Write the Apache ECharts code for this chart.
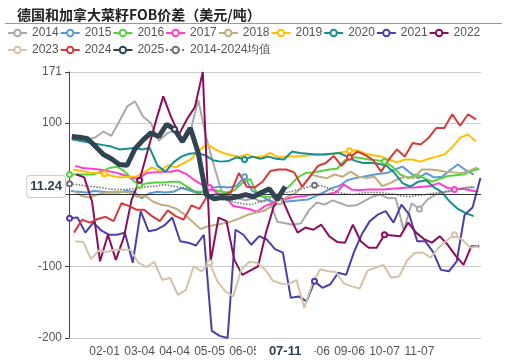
<!DOCTYPE html>
<html><head><meta charset="utf-8">
<script src="https://cdn.jsdelivr.net/npm/echarts@6/dist/echarts.min.js"></script>
<style>html,body{margin:0;padding:0;background:#fff}#c{width:505px;height:360px}</style>
</head><body><div id="c"></div>
<script>
const titleText = '德国和加拿大菜籽FOB价差（美元/吨）';
const seriesNames = ['2014','2015','2016','2017','2018','2019','2020','2021','2022','2023','2024','2025','2014-2024均值'];
// calendar year whose Fridays give each series' weekly dates
const seriesYears = [2014,2015,2016,2017,2018,2019,2020,2021,2022,2023,2024,2025,2021];
const seriesColors = ['#a9a9a9','#5b9bd5','#58d23c','#ff3fcf','#bfae7c','#ffc000','#15908e','#4b3ea8','#8a0d5e','#d3c3ab','#d53a3a','#2f4352','#707070'];

const v2014 = [76,77,77,80,88,82,102,123,130,109,100,75,85,90,72,88,132,80,40,3,-3,-5,-8,-5,-10,-7,-38,-40,-42,-40,-22,-11,-14,-8,-12,-16,-15,-9,-3,0,-5,-5,-50,-12,-20,-7,0,3,5,8,10,10];
const v2015 = [5,4,3,5,4,3,3,5,4,-5,2,4,3,4,9,6,2,5,10,11,10,12,25,5,0,-8,-11,-10,-9,-8,-7,-2,3,9,12,20,23,25,27,29,30,35,39,30,23,30,24,25,34,42,34,28];
const v2016 = [28,28,28,28,32,37,39,32,20,13,16,17,17,18,18,11,4,4,8,5,3,6,16,22,-2,-3,-3,4,12,24,30,31,33,35,36,48,52,51,49,48,46,39,28,23,28,23,18,22,26,27,28,33,36];
const v2017 = [40,37,36,35,33,31,28,24,22,30,31,32,32,34,29,21,14,10,2,-3,-16,-18,-20,-24,-16,-12,-8,-5,-3,-2,0,0,1,3,14,7,6,7,7,7,8,9,10,10,11,12,16,10,7,8,6,4];
const v2018 = [5,-2,-4,0,3,4,4,3,-3,-2,-10,-14,-16,-20,-28,-38,-48,-44,-42,-40,-37,-33,-28,-25,-23,-16,-10,-3,2,12,28,25,23,28,25,32,25,23,25,12,16,22,25,23,35,35,34,32,31,30,33,38];
const v2019 = [35,33,31,30,29,26,24,25,25,31,38,33,41,38,44,50,62,70,63,58,55,53,56,52,53,58,52,53,53,54,55,56,56,57,59,61,62,57,55,53,49,45,49,49,46,50,53,56,66,79,84,74];
const v2020 = [78,75,73,71,69,67,63,64,65,63,65,40,32,45,53,57,58,55,48,46,47,52,49,53,50,53,50,49,60,58,57,56,56,57,58,53,47,44,44,43,40,30,16,11,18,20,10,3,-10,-20,-26,-30];
const v2021 = [-33,-32,-53,-39,-50,-56,-56,-53,-95,-23,-51,-49,-43,-32,-65,-67,-71,-56,-190,-197,-200,-49,-56,-70,-58,-63,-76,-81,-144,-142,-149,-121,-130,-125,-109,-112,-80,-55,-37,-28,-23,-39,-14,-28,-65,-65,-80,-105,-107,-93,-28,-18,23];
const v2022 = [28,24,-10,-93,-56,-91,-60,-7,20,60,100,137,108,84,105,122,171,-93,-32,-37,-91,-112,-106,-100,-53,-16,-5,-30,-53,-46,-49,-42,-58,-66,-67,-42,-65,-74,-74,-56,-57,-58,-39,-53,-62,-67,-58,-70,-85,-98,-72,-72];
const v2023 = [-65,-66,-90,-78,-80,-77,-77,-77,-95,-101,-94,-119,-116,-140,-133,-100,-107,-95,-121,-135,-142,-105,-94,-95,-104,-120,-124,-125,-119,-158,-124,-104,-107,-108,-124,-128,-131,-106,-102,-98,-116,-114,-92,-81,-81,-88,-74,-64,-56,-63,-74,-72];
const v2024 = [-53,-35,-39,-34,-31,-37,-12,-16,-21,-21,-30,-37,-22,-30,-35,-15,-20,-2,0,0,3,30,11,10,18,33,35,35,31,11,25,40,44,54,40,52,60,55,48,32,49,63,53,72,70,79,93,93,112,96,112,105];
const v2025 = [81,80,78,67,56,50,42,41,64,76,86,81,98,91,74,93,58,0,-6,-4,-5,-3,0,-3,3,8,-7,11.24];
const vAvg = [15,14,12,11,10,8,7,7,8,10,11,12,14,12,10,9,4,0,-4,-6,-8,-11,-13,-14,-10,-7,-3,2,4,7,10,13,12,8,3,1,0,2,3,3,2,1,-2,-3,-1,0,2,3,5,7,9,11];
const seriesValues = [v2014,v2015,v2016,v2017,v2018,v2019,v2020,v2021,v2022,v2023,v2024,v2025,vAvg];

const yTicks = {min: -200, max: 171, interval: 100};
const pointerY = 11.24;
const FONT = "'Liberation Sans', Arial, sans-serif";

function mmdd(d){ return String(d.getUTCMonth()+1).padStart(2,'0') + '-' + String(d.getUTCDate()).padStart(2,'0'); }
const categories = [];
for (let i = 0; i < 365; i++) categories.push(mmdd(new Date(Date.UTC(2023,0,1+i))));
function fridays(year, n){
  const d = new Date(Date.UTC(year,0,1));
  while (d.getUTCDay() !== 5) d.setUTCDate(d.getUTCDate()+1);
  const out = [];
  for (let i = 0; i < n; i++){ out.push(mmdd(d)); d.setUTCDate(d.getUTCDate()+7); }
  return out;
}

const series = seriesNames.map((name, si) => {
  const vals = seriesValues[si];
  const dates = fridays(seriesYears[si], vals.length);
  const isCur = name === '2025';
  const isAvg = si === seriesNames.length - 1;
  const s = {
    name, type: 'line', data: vals.map((v,i)=>[dates[i], v]),
    symbol: 'emptyCircle', symbolSize: 5, showSymbol: true,
    itemStyle: {color: seriesColors[si]},
    lineStyle: {color: seriesColors[si], width: isCur ? 5 : (isAvg ? 1.5 : 2), type: isAvg ? 'dotted' : 'solid'},
    emphasis: {disabled: true},
    z: isCur ? 5 : 2
  };
  if (isAvg) {
    s.markLine = {silent: true, symbol: 'none', label: {show: false}, animation: false,
      lineStyle: {color: '#333', width: 1, type: 'solid'}, data: [{yAxis: 0}]};
  }
  return s;
});
const lastDates = fridays(2025, v2025.length);
const pointerX = categories.indexOf(lastDates[lastDates.length-1]);

const legendBase = {padding: 0, itemWidth: 19, itemHeight: 8, itemGap: 1,
  textStyle: {fontSize: 12, color: '#555', fontFamily: FONT}};

const chart = echarts.init(document.getElementById('c'), null, {renderer: 'canvas'});
chart.setOption({
  animation: false,
  backgroundColor: '#fff',
  title: {text: titleText, left: 12, top: 3, textStyle: {fontFamily: "'Noto Sans CJK SC'", fontSize: 14, fontWeight: 'bold', color: '#222'}},
  graphic: [{type: 'line', shape: {x1: 5, y1: 23.5, x2: 502, y2: 23.5}, style: {stroke: '#999', lineWidth: 1}}],
  legend: [
    Object.assign({left: 7, top: 27, data: seriesNames.slice(0, 9)}, legendBase),
    Object.assign({left: 7, top: 44, data: seriesNames.slice(9)}, legendBase)
  ],
  grid: {left: 69, right: 24, top: 72, bottom: 22, containLabel: false},
  xAxis: {type: 'category', data: categories, boundaryGap: true,
    axisLine: {show: false, onZero: false}, axisTick: {show: false},
    axisLabel: {interval: 30, showMinLabel: false, showMaxLabel: false, color: '#555', fontSize: 12, margin: 8, fontFamily: FONT},
    splitLine: {show: false},
    axisPointer: {show: true, status: 'show', value: pointerX, type: 'line', snap: false, triggerTooltip: false,
      lineStyle: {color: 'rgba(0,0,0,0)', width: 0},
      label: {show: true, backgroundColor: '#fff', color: '#2f3f4f', fontWeight: 'bold', fontSize: 13, padding: [2, 13], margin: 6, fontFamily: FONT, shadowBlur: 0}}
  },
  yAxis: {type: 'value', min: yTicks.min, max: yTicks.max, interval: yTicks.interval,
    axisLine: {show: true, lineStyle: {color: '#444'}}, axisTick: {show: true, length: 4, lineStyle: {color: '#444'}},
    axisLabel: {color: '#555', fontSize: 12, margin: 7, fontFamily: FONT},
    splitLine: {show: true, lineStyle: {color: '#ccc', width: 1}},
    axisPointer: {show: true, status: 'show', value: pointerY, type: 'line', snap: false, triggerTooltip: false,
      lineStyle: {color: 'rgba(0,0,0,0)', width: 0},
      label: {show: true, backgroundColor: '#fff', borderColor: '#ccc', borderWidth: 1, borderRadius: 3,
        color: '#2f3f4f', fontWeight: 'bold', fontSize: 13, padding: [4, 3], margin: 4, fontFamily: FONT, shadowBlur: 0,
        formatter: p => Number(p.value).toFixed(2)}}
  },
  series
});
</script></body></html>
